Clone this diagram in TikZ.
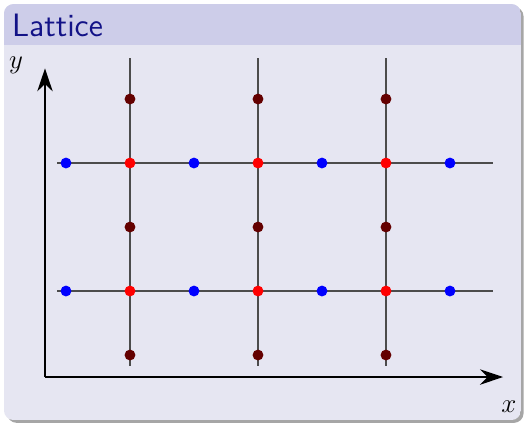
\documentclass[tikz,border=0pt]{standalone}
\usetikzlibrary{arrows.meta,positioning,shapes}
\definecolor{titlebg}{RGB}{205,205,233}
\definecolor{bodybg}{RGB}{230,230,242}
\definecolor{titlefg}{RGB}{18,18,135}
\definecolor{darkdot}{RGB}{100,0,0}
\tikzset{
  dot/.style={circle,fill,inner sep=0pt,minimum size=0.17cm},
  gridline/.style={line width=0.6pt,black!70},
  axis/.style={line width=0.9pt,-{Stealth[length=0.36cm,width=0.24cm]}}
}

\begin{document}
\begin{tikzpicture}
\useasboundingbox (-2.031,-2.078) rectangle (6.219,4.547);
% block with shadow
\fill[black!35,rounded corners=0.15cm] (-1.92,-2.06) rectangle (6.15,4.44);
\begin{scope}
\clip[rounded corners=0.15cm] (-1.969,-2.016) rectangle (6.109,4.484);
\fill[bodybg] (-1.969,-2.016) rectangle (6.109,4.484);
\fill[titlebg] (-1.969,3.844) rectangle (6.109,4.484);
\end{scope}
\node[anchor=base west,inner sep=0pt,text=titlefg,font=\sffamily\fontsize{14.4}{17}\selectfont] (title) at (-1.85,3.98) {Lattice};

% grid lines
\foreach \r in {0,2} {
  \coordinate (h\r w) at (-1.14,\r);
  \coordinate (h\r e) at (5.67,\r);
  \draw[gridline] (h\r w) -- (h\r e);
}
\foreach \c in {0,2,4} {
  \coordinate (v\c n) at (\c,3.64);
  \coordinate (v\c s) at (\c,-1.17);
  \draw[gridline] (v\c n) -- (v\c s);
}

% axes
\coordinate (o) at (-1.328,-1.344);
\coordinate (xend) at (5.83,-1.344);
\coordinate (yend) at (-1.328,3.48);
\draw[axis] (o) -- (xend);
\draw[axis] (o) -- (yend);
\node[font=\fontsize{12}{14}\selectfont] (xlab) at (5.92,-1.80) {$x$};
\node[font=\fontsize{12}{14}\selectfont] (ylab) at (-1.78,3.52) {$y$};

% lattice points
\foreach \c in {0,2,4} {
  \foreach \r in {-1,1,3}
    \node[dot,darkdot] (d\c\r) at (\c,\r) {};
  \foreach \r in {0,2}
    \node[dot,red] (r\c\r) at (\c,\r) {};
}
\foreach \c in {-1,1,3,5}
  \foreach \r in {0,2}
    \node[dot,blue] (b\c\r) at (\c,\r) {};
\end{tikzpicture}
\end{document}
